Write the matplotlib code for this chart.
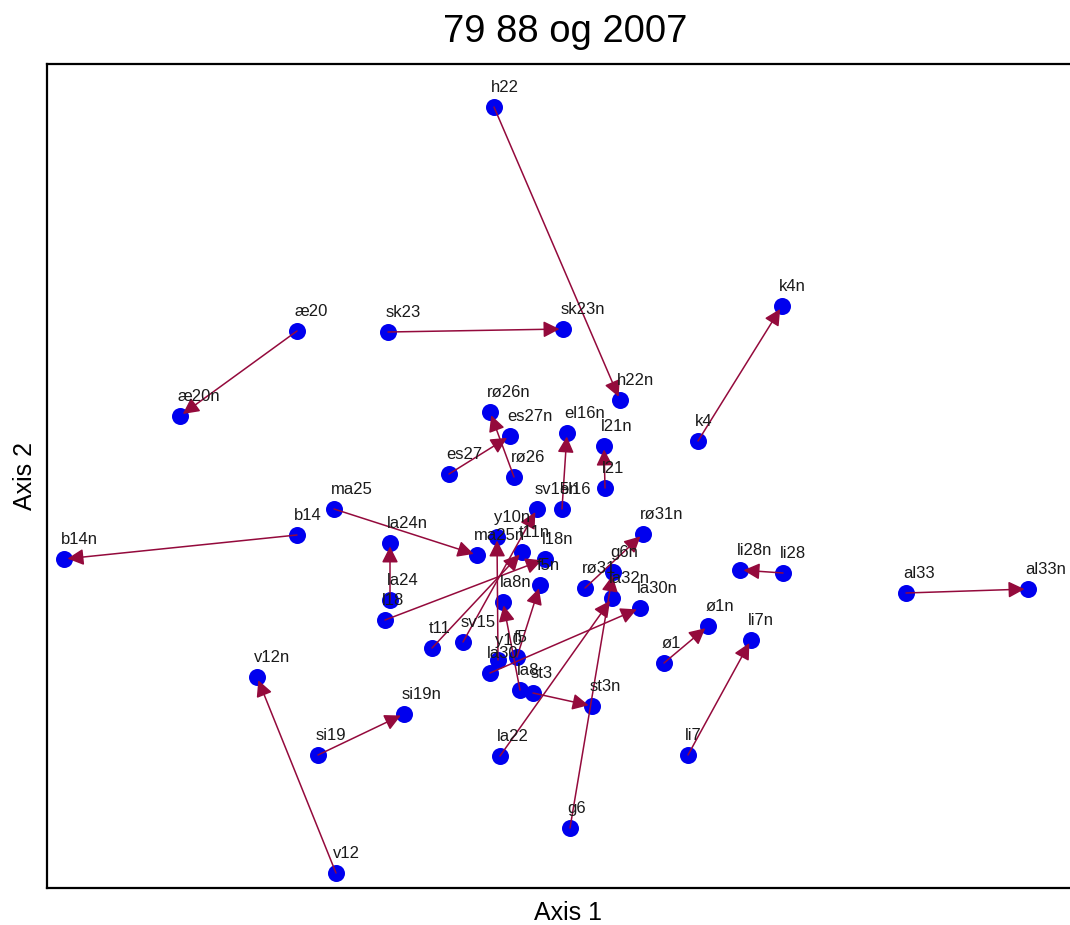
import matplotlib
matplotlib.use("Agg")
import matplotlib.pyplot as plt

plt.rcParams['font.family'] = ['Liberation Sans', 'DejaVu Sans']

title = "79 88 og 2007"
xlabel = "Axis 1"
ylabel = "Axis 2"

# starting positions (older survey)
old_names = ["h22", "k4", "æ20", "sk23", "rø26", "es27", "el16", "l21", "ma25", "b14",
             "la24", "l18", "t11", "sv15", "y10", "f5", "la30", "la8", "st3", "rø31",
             "g6", "la22", "li28", "al33", "ø1", "li7", "v12", "si19"]
old_x = [44.7, 65.1, 25.0, 34.1, 46.7, 40.2, 51.5, 55.8, 28.7, 25.0,
         34.3, 33.8, 38.5, 41.6, 45.1, 47.0, 44.3, 47.3, 48.6, 53.8,
         52.3, 45.3, 73.6, 85.9, 61.7, 64.1, 28.9, 27.1]
old_y = [78.1, 44.7, 55.7, 55.6, 41.1, 41.4, 37.9, 40.0, 37.9, 35.3,
         28.8, 26.8, 24.0, 24.6, 22.8, 23.1, 21.5, 19.8, 19.5, 30.0,
         6.0, 13.2, 31.5, 29.5, 22.5, 13.3, 1.5, 13.3]

# end positions (2007)
new_names = ["h22n", "k4n", "æ20n", "sk23n", "rø26n", "es27n", "el16n", "l21n", "ma25n", "b14n",
             "la24n", "l18n", "t11n", "sv15n", "y10n", "f5n", "la30n", "la8n", "st3n", "rø31n",
             "g6n", "la32n", "li28n", "al33n", "ø1n", "li7n", "v12n", "si19n"]
new_x = [57.3, 73.5, 13.3, 51.6, 44.3, 46.3, 52.0, 55.7, 43.0, 1.7,
         34.3, 49.8, 47.5, 49.0, 45.0, 49.3, 59.3, 45.6, 54.5, 59.6,
         56.6, 56.5, 69.3, 98.1, 66.1, 70.4, 21.0, 35.7]
new_y = [48.8, 58.2, 47.2, 55.9, 47.6, 45.2, 45.5, 44.2, 33.3, 32.9,
         34.5, 32.9, 33.6, 37.9, 35.1, 30.3, 28.0, 28.6, 18.2, 35.4,
         31.6, 29.0, 31.8, 29.9, 26.2, 24.8, 21.1, 17.4]

W, H = 1070, 925
fig = plt.figure(figsize=(W / 100, H / 100), dpi=100)
left_px, top_px, bottom_px, right_px = 47, 64, 888, 1082
ax = fig.add_axes([left_px / W, 1 - bottom_px / H, (right_px - left_px) / W, (bottom_px - top_px) / H])
ax.set_xlim(0, (right_px - left_px) / 10)
ax.set_ylim(0, (bottom_px - top_px) / 10)
ax.set_xticks([])
ax.set_yticks([])
for s in ax.spines.values():
    s.set_linewidth(1.6)
    s.set_color('black')

dot_color = '#0000ee'
arrow_color = '#940a3c'

ax.scatter(old_x + new_x, old_y + new_y, s=150, color=dot_color, zorder=2, linewidths=0)

for x0, y0, x1, y1 in zip(old_x, old_y, new_x, new_y):
    ax.annotate('', xy=(x1, y1), xytext=(x0, y0),
                arrowprops=dict(arrowstyle='-|>,head_length=0.65,head_width=0.33',
                                color=arrow_color, lw=1.1, mutation_scale=15,
                                shrinkA=0, shrinkB=2.5),
                zorder=3)

for names, xs, ys in ((old_names, old_x, old_y), (new_names, new_x, new_y)):
    for n, x, y in zip(names, xs, ys):
        ax.annotate(n, xy=(x, y), xytext=(-2, 10.5), textcoords='offset points',
                    ha='left', va='baseline', fontsize=12, color='#1a1a1a', zorder=4)

fig.text(565 / W, 1 - 32 / H, title, ha='center', va='center', fontsize=27.5)
fig.text(568 / W, 1 - 913 / H, xlabel, ha='center', va='center', fontsize=18)
fig.text(25 / W, 1 - 476 / H, ylabel, ha='center', va='center', fontsize=18, rotation=90)

fig.savefig('out.png', dpi=100)
